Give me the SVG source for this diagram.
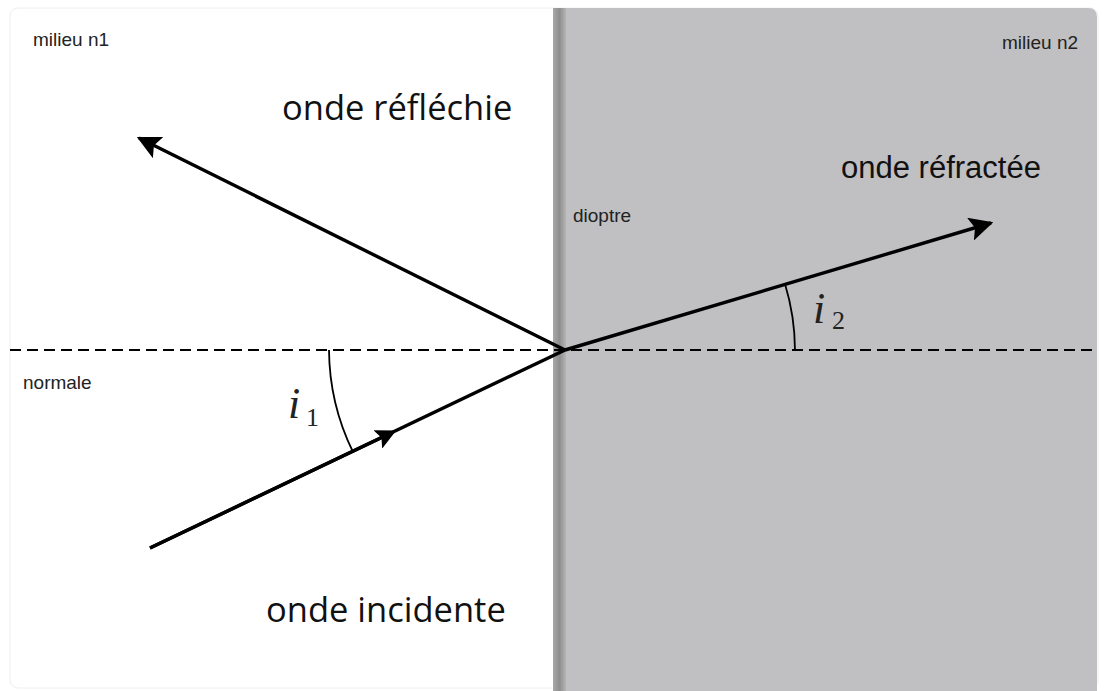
<svg xmlns="http://www.w3.org/2000/svg" width="1104" height="691" viewBox="0 0 1104 691">
<defs>
<linearGradient id="edge" x1="0" y1="0" x2="1" y2="0">
<stop offset="0" stop-color="#a8a8a8"/>
<stop offset="0.5" stop-color="#8e8e8e"/>
<stop offset="1" stop-color="#b5b5b5"/>
</linearGradient>
<marker id="arr" viewBox="0 0 10 10" refX="9" refY="5" markerWidth="7" markerHeight="7" markerUnits="strokeWidth" orient="auto">
<path d="M0,0 L10,5 L0,10 L2,5 Z" fill="#000"/>
</marker>
<marker id="mid" viewBox="0 0 10 10" refX="5" refY="5" markerWidth="6" markerHeight="6" markerUnits="strokeWidth" orient="auto">
<path d="M0,0 L10,5 L0,10 L2,5 Z" fill="#000"/>
</marker>
</defs>
<style>
.ray{stroke:#000;stroke-width:3.4;fill:none}
.arc{stroke:#000;stroke-width:1.8;fill:none}
.norm{stroke:#000;stroke-width:2;stroke-dasharray:11 6;fill:none}
.big{font-family:"Open Sans","DejaVu Sans",sans-serif;font-size:34.5px;fill:#111}
.big2{font-family:"Liberation Sans",Arial,sans-serif;font-size:31px;fill:#111}
.small{font-family:"Liberation Sans",Arial,sans-serif;font-size:19px;fill:#222}
.math{font-family:"Liberation Serif","DejaVu Serif",serif;font-style:italic;fill:#222}
.sub{font-family:"Liberation Serif","DejaVu Serif",serif;fill:#222}
</style>
<rect width="1104" height="691" fill="#ffffff"/>
<rect x="10" y="8" width="1088" height="680" rx="8" fill="#ffffff" stroke="#eeeeee" stroke-width="1"/>
<g id="milieu2">
<path d="M553,8 H1088 Q1097,8 1097,17 V691 H553 Z" fill="#c0bfc1"/>
<rect x="553" y="8" width="13" height="683" fill="url(#edge)"/>
</g>
<g id="connectors">
<line class="norm" x1="10" y1="350" x2="1097" y2="350"/>
<line class="ray" x1="150" y1="548" x2="565" y2="350"/>
<line class="ray" x1="150" y1="548" x2="387" y2="435" marker-end="url(#mid)"/>
<line class="ray" x1="565" y1="350" x2="139" y2="138" marker-end="url(#arr)"/>
<line class="ray" x1="565" y1="350" x2="991" y2="223" marker-end="url(#arr)"/>
<path class="arc" d="M329,350 A236,236 0 0 0 353,452"/>
<path class="arc" d="M795,350 A230,230 0 0 0 785,284"/>
</g>
<g id="labels">
<text class="small" x="33" y="46">milieu n1</text>
<text class="small" x="1002" y="49">milieu n2</text>
<text class="small" x="23" y="389">normale</text>
<text class="small" x="573" y="222">dioptre</text>
<text class="big" x="282" y="120">onde réfléchie</text>
<text class="big" x="266" y="622">onde incidente</text>
<text class="big2" x="841" y="178">onde réfractée</text>
<text class="math" x="288" y="418" font-size="44">i</text>
<text class="sub" x="306" y="426" font-size="26">1</text>
<text class="math" x="813" y="323" font-size="44">i</text>
<text class="sub" x="832" y="329" font-size="26">2</text>
</g>
</svg>
